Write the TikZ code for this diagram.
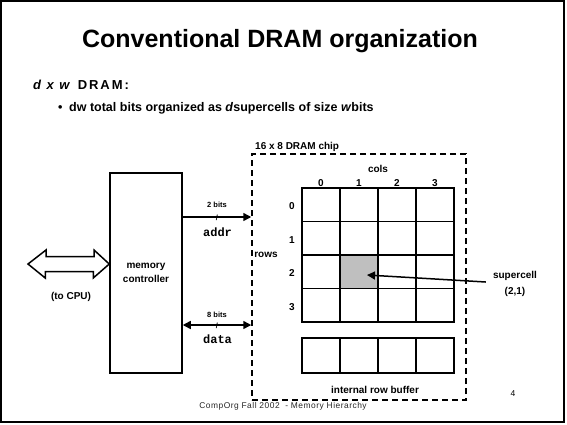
\documentclass[tikz,border=0pt]{standalone}
\usepackage{fontspec}
\setmainfont{Liberation Sans}
\newfontfamily\courfont{Liberation Mono}
\usetikzlibrary{positioning, arrows.meta}

\tikzset{
  cell/.style={draw, line width=1.5pt, minimum width=38pt, minimum height=33.5pt, inner sep=0pt, outer sep=0pt},
  lbl/.style={font=\fontsize{10}{14}\selectfont\bfseries, inner sep=1pt},
  tinylbl/.style={font=\fontsize{7.5}{9}\selectfont\bfseries, inner sep=0.5pt},
  code/.style={font=\fontsize{12}{14}\selectfont\courfont\bfseries, inner sep=1pt},
  bus/.style={line width=1.5pt, -{Triangle[length=8pt,width=8pt]}}
}

\begin{document}
\begin{tikzpicture}[x=1pt, y=-1pt]
    \useasboundingbox (0,0) rectangle (567,424);
    \draw[line width=1.5pt] (1,1) rectangle (564,422);
    % Title and text
    \node[anchor=base, inner sep=0pt, font=\fontsize{25}{30}\selectfont\bfseries] (title) at (280,47) {Conventional DRAM organization};
    \node[anchor=base west, inner sep=0pt, font=\fontsize{13}{15}\selectfont\bfseries\addfontfeature{LetterSpace=15}] (head) at (33,89) {\textit{d x w} DRAM:};
    \node[anchor=base west, inner sep=0pt, font=\fontsize{12.5}{14}\selectfont\bfseries] (bullet) at (58,111) {\makebox[11pt][l]{•}dw total bits organized as \textit{d}supercells of size \textit{w}bits};
    % Memory controller and CPU side
    \node[draw, line width=1.5pt, minimum width=72pt, minimum height=200pt, align=center, lbl] (ctrl) at (146,273) {memory\\controller};
    \coordinate (cpu) at (28,264);
    \draw[line width=1.5pt, fill=white] (cpu) -- ++(18,-14) -- ++(0,6.5) -- ++(48,0) -- ++(0,-6.5) -- (ctrl.west |- cpu) -- ++(-16,14) -- ++(0,-6.5) -- ++(-48,0) -- ++(0,6.5) -- cycle;
    \node[lbl] (tocpu) at (71,297) {(to CPU)};
    % DRAM chip
    \node[draw, line width=1.5pt, dash pattern=on 6pt off 4pt, minimum width=214pt, minimum height=246pt] (chip) at (359,277) {};
    \node[lbl, anchor=base west, inner sep=0pt] (chipname) at (255,149) {16 x 8 DRAM chip};
    \foreach \r in {0,...,3}
      \foreach \c in {0,...,3}
        \node[cell] (cell-\r-\c) at ({321+38*\c},{204.5+33.5*\r}) {};
    \node[cell, fill=black!25] (super) at (cell-2-1) {};
    \foreach \c in {0,...,3}
      \node[lbl, above=0pt of cell-0-\c] (col-\c) {\c};
    \foreach \r in {0,...,3}
      \node[lbl, left=6pt of cell-\r-0, yshift=-2pt] (row-\r) {\r};
    \node[lbl] (colsname) at (378,169) {cols};
    \node[lbl] (rowsname) at (266,255) {rows};
    \foreach \c in {0,...,3}
      \node[cell, minimum height=35pt] (buf-\c) at ({321+38*\c},355.5) {};
    \node[lbl] (bufname) at (375,390) {internal row buffer};
    % Buses between controller and chip
    \draw[bus] (ctrl.east |- 0,217) -- (chip.west |- 0,217);
    \node[tinylbl] (addrbits) at (217,205) {2 bits};
    \node[tinylbl] (addrslash) at (217,217.5) {/};
    \node[code] (addr) at (217.5,232) {addr};
    \draw[bus, {Triangle[length=8pt,width=8pt]}-{Triangle[length=8pt,width=8pt]}] (ctrl.east |- 0,325) -- (chip.west |- 0,325);
    \node[tinylbl] (databits) at (217,315) {8 bits};
    \node[tinylbl] (dataslash) at (217,325.5) {/};
    \node[code] (data) at (217.5,339) {data};
    % Supercell pointer
    \node[lbl, align=center, font=\fontsize{10}{16}\selectfont\bfseries] (sclbl) at (515,284) {supercell\\(2,1)};
    \draw[bus] ([xshift=-6pt, yshift=2pt]sclbl.west) -- ([xshift=8pt, yshift=-3.5pt]super.center);
    % Footer
    \node[inner sep=0pt, font=\fontsize{8.4}{10}\selectfont\addfontfeature{LetterSpace=6}, text=black!85] (foot) at (283,406.5) {CompOrg Fall 2002\ \ - Memory Hierarchy};
    \node[font=\fontsize{8.5}{10}\selectfont] (pagenum) at (513,394) {4};
\end{tikzpicture}
\end{document}
